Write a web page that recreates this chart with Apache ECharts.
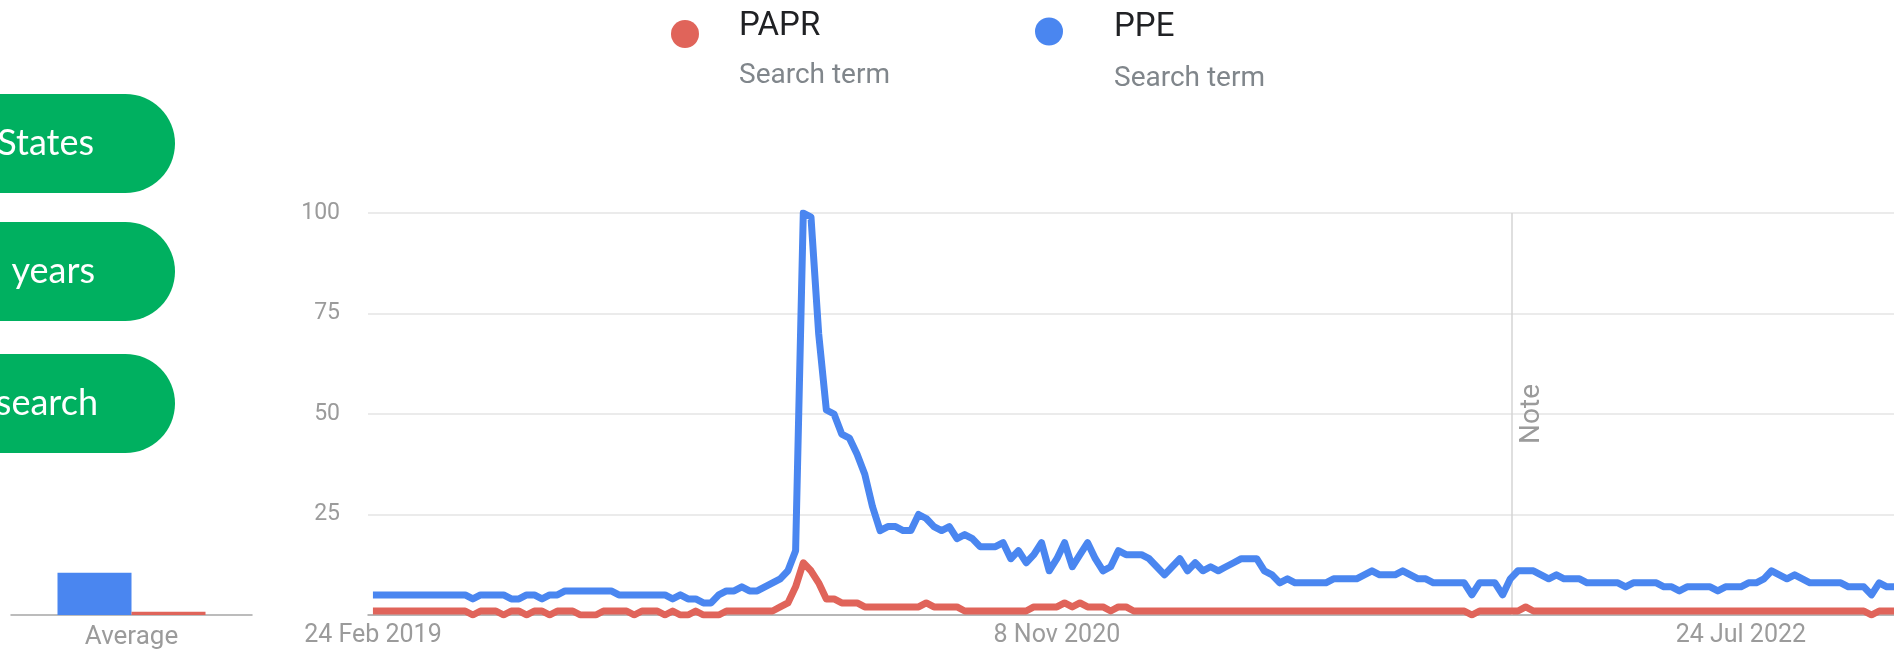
<!DOCTYPE html>
<html>
<head>
<meta charset="utf-8">
<title>PAPR vs PPE – interest over time</title>
<script src="https://cdn.jsdelivr.net/npm/echarts@6/dist/echarts.min.js"></script>
<style>
  html, body { margin: 0; padding: 0; background: #ffffff; }
  #chart { width: 1894px; height: 651px; }
</style>
</head>
<body>
<div id="chart"></div>
<script>
// Weekly search interest (0–100), one value per week starting at firstWeek
const firstWeek = '2019-02-24';

const paprInterest = [
  1,1,1,1,1,1,1,1,1,1,1,1,1,
  0,1,1,1,0,1,1,0,1,1,0,1,1,1,0,0,0,1,1,1,1,0,1,1,1,0,1,0,0,1,0,0,0,
  1,1,1,1,1,1,1,2,3,7,13,11,8,4,4,3,3,3,
  2,2,2,2,2,2,2,2,3,2,2,2,2,
  1,1,1,1,1,1,1,1,1,
  2,2,2,2,3,2,3,2,2,2,1,2,2,
  1,1,1,1,1,1,1,1,1,1,1,1,1,1,1,1,1,1,1,1,1,1,1,1,1,1,1,1,1,1,1,1,1,1,1,1,1,1,1,1,1,1,1,1,
  0,
  1,1,1,1,1,1,
  2,
  1,1,1,1,1,1,1,1,1,1,1,1,1,1,1,1,1,1,1,1,1,1,1,1,1,1,1,1,1,1,1,1,1,1,1,1,1,1,1,1,1,1,1,1,
  0,
  1,1,1
];

const ppeInterest = [
  5,5,5,5,5,5,5,5,5,5,5,5,5,
  4,5,5,5,5,4,4,5,5,4,5,5,
  6,6,6,6,6,6,6,
  5,5,5,5,5,5,5,
  4,5,4,4,3,3,5,6,6,7,6,6,7,8,9,11,16,
  100,99,70,51,50,45,44,40,35,27,21,22,22,21,21,25,24,22,21,22,19,20,19,
  17,17,17,18,14,16,13,15,18,11,14,18,12,15,18,14,11,12,16,15,15,15,14,12,10,12,14,11,13,11,12,11,12,
  13,14,14,14,11,10,8,9,8,8,8,8,8,9,9,9,9,10,11,10,10,10,11,10,9,9,
  8,8,8,8,8,5,8,8,8,5,9,11,11,11,10,9,10,9,9,9,
  8,8,8,8,8,7,8,8,8,8,7,7,6,7,7,7,7,6,7,7,7,8,8,9,11,10,9,10,9,
  8,8,8,8,8,7,7,7,5,8,7,7
];

// Average interest over the period
const averageCategories = ['Average'];
const ppeAverage = [10.5];
const paprAverage = [0.8];

// Axis ticks
const dateTicks = ['2019-02-24', '2020-11-08', '2022-07-24'];
const dateTickLabels = ['24 Feb 2019', '8 Nov 2020', '24 Jul 2022'];
const interestTicks = [0, 25, 50, 75, 100];
const noteDate = '2021-12-27';

// Filter chips on the left
const filterChips = ['United States', 'Past 5 years', 'Web search'];

const RED = '#e0645a';
const BLUE = '#4a86f0';
const GREY_TEXT = '#9b9b9b';
const DAY = 86400000;

function toTime(s) {
  const p = s.split('-').map(Number);
  return Date.UTC(p[0], p[1] - 1, p[2]);
}
// Position on the x axis, counted in weeks from the first week
const weekOf = s => (toTime(s) - toTime(firstWeek)) / (7 * DAY);

const tickWeeks = dateTicks.map(weekOf);
const labelByWeek = {};
tickWeeks.forEach((w, k) => { labelByWeek[w] = dateTickLabels[k]; });

const chart = echarts.init(document.getElementById('chart'), null, { renderer: 'canvas' });

// Legend text: a spacer line, the term, and a caption below it
const legendRich = (gap, nameH, subH) => ({
  g: { fontSize: 10, lineHeight: gap },
  n: { fontSize: 33, lineHeight: nameH, color: '#202124', fontFamily: 'Roboto' },
  s: { fontSize: 28, lineHeight: subH, color: '#80868b', fontFamily: 'Roboto' }
});
const legendFormatter = name => '{g| }\n{n|' + name + '}\n{s|Search term}';

const pillTops = [94, 222, 354];
const pillTextRight = [94, 95, 98];

// x range: a few days of padding before the first week; the plot runs off the right edge
const xMin = -4.5 / 7;
const xMax = xMin + 1390 / 7;

chart.setOption({
  animation: false,
  backgroundColor: '#ffffff',
  legend: [
    {
      data: ['PAPR'], left: 671, top: -20, padding: 0,
      icon: 'circle', itemWidth: 98, itemHeight: 28,
      itemStyle: { borderWidth: 0 },
      selectedMode: false,
      formatter: legendFormatter,
      textStyle: { rich: legendRich(40, 44, 54) }
    },
    {
      data: ['PPE'], left: 1035, top: -24, padding: 0,
      icon: 'circle', itemWidth: 120, itemHeight: 28,
      itemStyle: { borderWidth: 0 },
      selectedMode: false,
      formatter: legendFormatter,
      textStyle: { rich: legendRich(50, 44, 57) }
    }
  ],
  grid: [
    { left: 368, right: 0, top: 213, bottom: 36, containLabel: false },
    { left: 11, width: 241, top: 213, bottom: 36, containLabel: false }
  ],
  xAxis: [
    {
      type: 'value',
      gridIndex: 0,
      min: xMin,
      max: xMax,
      axisLine: { show: true, onZero: false, lineStyle: { color: '#a6a6a6', width: 1.5 } },
      axisTick: { show: false },
      splitLine: { show: false },
      axisLabel: {
        customValues: tickWeeks,
        formatter: v => labelByWeek[v] || '',
        color: GREY_TEXT,
        fontSize: 25,
        fontFamily: 'Roboto',
        margin: 8
      }
    },
    {
      type: 'category',
      gridIndex: 1,
      data: averageCategories,
      axisLine: { show: true, lineStyle: { color: '#a6a6a6', width: 1.5 } },
      axisTick: { show: false },
      axisLabel: { color: GREY_TEXT, fontSize: 26, fontFamily: 'Roboto', margin: 9 }
    }
  ],
  yAxis: [
    {
      type: 'value',
      gridIndex: 0,
      min: interestTicks[0],
      max: interestTicks[interestTicks.length - 1],
      interval: 25,
      axisLine: { show: false },
      axisTick: { show: false },
      splitLine: { show: true, lineStyle: { color: '#e4e4e4', width: 1.5 } },
      axisLabel: {
        formatter: v => (v === 0 ? '' : String(v)),
        color: GREY_TEXT,
        fontSize: 23,
        fontFamily: 'Roboto',
        margin: 28
      }
    },
    {
      type: 'value',
      gridIndex: 1,
      min: 0,
      max: 100,
      show: false
    }
  ],
  series: [
    {
      name: 'PAPR',
      type: 'line',
      xAxisIndex: 0, yAxisIndex: 0,
      data: paprInterest.map((v, i) => [i, v]),
      showSymbol: false,
      symbol: 'none',
      color: RED,
      itemStyle: { color: RED },
      lineStyle: { color: RED, width: 7, join: 'round' },
      z: 3
    },
    {
      name: 'PPE',
      type: 'line',
      xAxisIndex: 0, yAxisIndex: 0,
      data: ppeInterest.map((v, i) => [i, v]),
      showSymbol: false,
      symbol: 'none',
      color: BLUE,
      itemStyle: { color: BLUE },
      lineStyle: { color: BLUE, width: 7, join: 'round' },
      z: 4,
      markLine: {
        silent: true,
        symbol: 'none',
        lineStyle: { color: '#d4d4d4', width: 1.5, type: 'solid' },
        label: {
          show: true,
          formatter: 'Note',
          position: 'insideMiddleBottom',
          color: GREY_TEXT,
          fontSize: 28,
          fontFamily: 'Roboto',
          distance: 7
        },
        data: [{ xAxis: weekOf(noteDate) }],
        z: 1
      }
    },
    {
      name: 'PPE',
      type: 'bar',
      xAxisIndex: 1, yAxisIndex: 1,
      data: ppeAverage,
      barWidth: 74,
      barGap: '0%',
      itemStyle: { color: BLUE }
    },
    {
      name: 'PAPR',
      type: 'bar',
      xAxisIndex: 1, yAxisIndex: 1,
      data: paprAverage,
      barWidth: 74,
      barGap: '0%',
      itemStyle: { color: RED }
    }
  ],
  graphic: filterChips.map((label, k) => ({
    type: 'group',
    silent: true,
    children: [
      {
        type: 'rect',
        shape: { x: -140, y: pillTops[k], width: 315, height: 99, r: 49.5 },
        style: { fill: '#00b060' }
      },
      {
        type: 'text',
        style: {
          text: label,
          x: pillTextRight[k],
          y: pillTops[k] + 49.5,
          align: 'right',
          verticalAlign: 'middle',
          fill: '#ffffff',
          font: '36px Lato'
        }
      }
    ]
  }))
});
</script>
</body>
</html>
